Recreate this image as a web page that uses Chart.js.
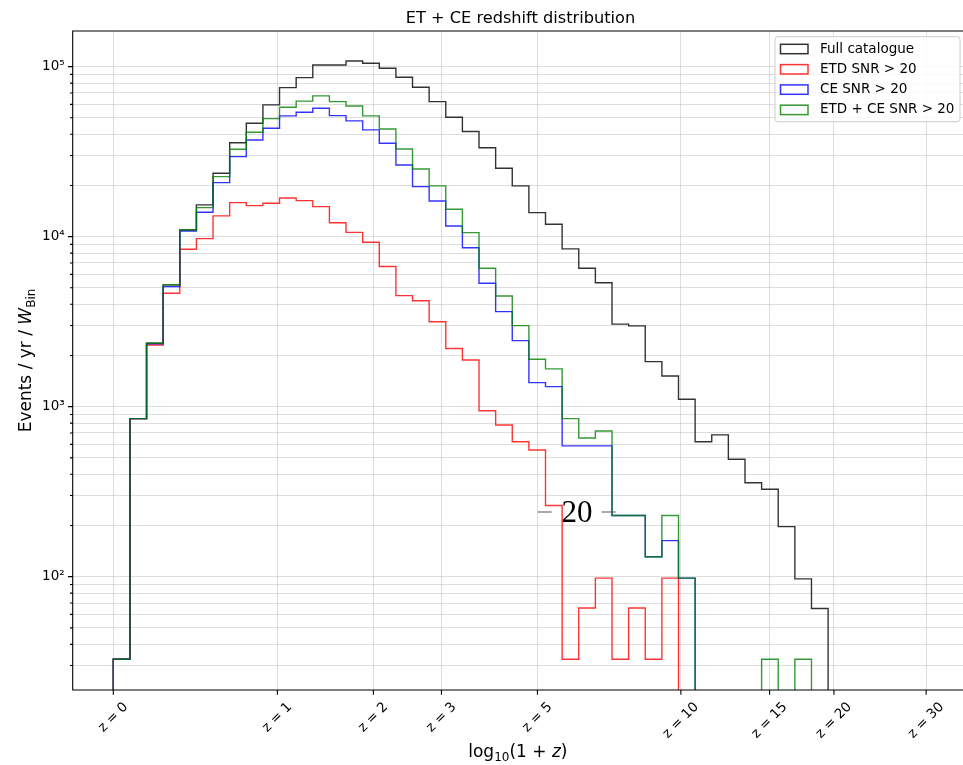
<!DOCTYPE html>
<html>
<head>
<meta charset="utf-8">
<script src="https://cdn.jsdelivr.net/npm/chart.js@4.4.0/dist/chart.umd.min.js"></script>
<style>
  body { margin: 0; background: #fff; }
  #wrap { width: 963px; height: 765px; }
</style>
</head>
<body>
<div id="wrap"><canvas id="chart"></canvas></div>
<script>
// histogram bins in log10(1+z), all start at 0
const binWidth = 0.0305;

// Events / yr / W_Bin per bin
const fullCatalogue = [32.7, 850, 2360, 5200, 10950, 15370, 23600, 35700, 46450, 59550,
    75260, 86100, 102300, 102300, 108000, 104700, 97900, 86600, 75650, 62250,
    50400, 41500, 33300, 25250, 19880, 13840, 11830, 8470, 6520, 5360,
    3060, 2985, 1840, 1516, 1105, 622, 682, 491, 357, 327,
    197, 97, 65, 0];
const etdSnr20 = [32.7, 850, 2307, 4645, 8430, 9730, 13240, 15850, 15220, 15720,
    16880, 16290, 15010, 12080, 10600, 9270, 6670, 4500, 4200, 3160,
    2200, 1880, 947, 780, 622, 556, 262, 32.7, 65.4, 98,
    32.7, 65.4, 32.7, 98, 0];
const ceSnr20 = [32.7, 850, 2339, 5080, 10800, 13920, 20780, 29550, 37050, 43440,
    51300, 53950, 56900, 51500, 47950, 42450, 35400, 26400, 19680, 16220,
    11560, 8610, 5320, 3620, 2445, 1384, 1312, 588, 588, 588,
    229, 229, 131, 163, 98, 0];
const etdCeSnr20 = [32.7, 850, 2360, 5200, 10950, 14820, 22540, 32650, 41100, 49430,
    57700, 62700, 67250, 62250, 58700, 51300, 43000, 32800, 25000, 19880,
    14500, 10560, 6520, 4480, 2995, 1900, 1667, 850, 654, 719,
    229, 229, 131, 229, 98, 0, 0, 0, 0, 32.7,
    0, 32.7, 0];

const seriesLabels = ["Full catalogue", "ETD SNR > 20", "CE SNR > 20", "ETD + CE SNR > 20"];
const seriesColors = ["rgba(0,0,0,0.8)", "rgba(255,0,0,0.8)", "rgba(0,0,255,0.8)", "rgba(0,128,0,0.8)"];

const zTicks = [0, 1, 2, 3, 5, 10, 15, 20, 30];
const yMajorTicks = [100, 1000, 10000, 100000];
const yTickLabels = ["10\u00b2", "10\u00b3", "10\u2074", "10\u2075"];

const yMin = 21.55, yMax = 162000;
const xMin = -0.0745, xMax = 1.559;

// empty bins go below the axis
function stepPoints(values) {
    const floor = 1;
    const pts = [{ x: 0, y: floor }];
    values.forEach((v, i) => pts.push({ x: i * binWidth, y: v > 0 ? v : floor }));
    pts.push({ x: values.length * binWidth, y: floor });
    return pts;
}

const allSeries = [fullCatalogue, etdSnr20, ceSnr20, etdCeSnr20];

// minor + major y ticks: 30..90, 100..900, ...
const yAllTicks = [];
[10, 100, 1000, 10000, 100000].forEach(d => {
    for (let m = 1; m <= 9; m++) {
        const v = d * m;
        if (v >= yMin && v <= yMax) yAllTicks.push(v);
    }
});

const FONT = '"DejaVu Sans", sans-serif';
const GRID = "rgba(176,176,176,0.42)";

function drawPieces(ctx, pieces, cx, baseline) {
    let total = 0;
    pieces.forEach(p => { ctx.font = p.font; p.w = ctx.measureText(p.text).width; total += p.w; });
    let x = cx - total / 2;
    pieces.forEach(p => {
        ctx.font = p.font;
        ctx.fillText(p.text, x, baseline + (p.dy || 0));
        x += p.w;
    });
}

const decor = {
    id: "decor",
    afterDraw(chart) {
        const ctx = chart.ctx;
        const a = chart.chartArea;
        const xs = chart.scales.x, ys = chart.scales.y;
        ctx.save();

        // frame
        ctx.strokeStyle = "#000";
        ctx.lineWidth = 1.1;
        ctx.beginPath();
        ctx.moveTo(a.right + 2, a.top);
        ctx.lineTo(a.left, a.top);
        ctx.lineTo(a.left, a.bottom);
        ctx.lineTo(a.right + 2, a.bottom);
        ctx.stroke();

        // tick marks
        ctx.beginPath();
        zTicks.forEach(z => {
            const px = xs.getPixelForValue(Math.log10(1 + z));
            ctx.moveTo(px, a.bottom);
            ctx.lineTo(px, a.bottom + 4.7);
        });
        yAllTicks.forEach(v => {
            const py = ys.getPixelForValue(v);
            const len = yMajorTicks.includes(v) ? 4.7 : 2.7;
            ctx.moveTo(a.left, py);
            ctx.lineTo(a.left - len, py);
        });
        ctx.stroke();

        ctx.fillStyle = "#000";

        // x tick labels, rotated 45 deg, bbox centred on tick
        ctx.font = "13.5px " + FONT;
        ctx.textAlign = "center";
        ctx.textBaseline = "middle";
        zTicks.forEach(z => {
            const px = xs.getPixelForValue(Math.log10(1 + z));
            const txt = "z = " + z;
            const w = ctx.measureText(txt).width;
            const h = 15.7;
            const side = (w + h) * Math.SQRT1_2;
            ctx.save();
            ctx.translate(px, a.bottom + 9.4 + side / 2);
            ctx.rotate(-Math.PI / 4);
            ctx.fillText(txt, 0, 0);
            ctx.restore();
        });

        ctx.textBaseline = "alphabetic";
        ctx.textAlign = "left";

        // title
        ctx.font = "16.2px " + FONT;
        ctx.textAlign = "center";
        ctx.fillText("ET + CE redshift distribution", 520.5, 23.3);
        ctx.textAlign = "left";

        // x axis label
        const xc = (a.left + a.right) / 2;
        drawPieces(ctx, [
            { text: "log", font: "17px " + FONT },
            { text: "10", font: "12px " + FONT, dy: 4.2 },
            { text: "(1 + ", font: "17px " + FONT },
            { text: "z", font: "oblique 17px " + FONT },
            { text: ")", font: "17px " + FONT }
        ], xc, 757);

        // y axis label
        ctx.save();
        ctx.translate(31, (a.top + a.bottom) / 2);
        ctx.rotate(-Math.PI / 2);
        drawPieces(ctx, [
            { text: "Events / yr / ", font: "17px " + FONT },
            { text: "W", font: "oblique 17px " + FONT },
            { text: "Bin", font: "12px " + FONT, dy: 4.2 }
        ], 0, 0);
        ctx.restore();

        // stray "20" label
        ctx.strokeStyle = "#555";
        ctx.lineWidth = 1;
        ctx.beginPath();
        ctx.moveTo(537.7, 512); ctx.lineTo(551.7, 512);
        ctx.moveTo(601.7, 512); ctx.lineTo(615.7, 512);
        ctx.stroke();
        ctx.font = '31px "Liberation Serif", serif';
        ctx.textAlign = "center";
        ctx.fillText("20", 577, 522);
        ctx.textAlign = "left";

        // legend
        const lx = 775, ly = 36.7, lw = 185, lh = 85;
        ctx.beginPath();
        ctx.roundRect(lx, ly, lw, lh, 3);
        ctx.fillStyle = "rgba(255,255,255,0.8)";
        ctx.fill();
        ctx.strokeStyle = "#cccccc";
        ctx.stroke();
        ctx.font = "13.5px " + FONT;
        ctx.textBaseline = "middle";
        seriesLabels.forEach((lab, i) => {
            const cy = 49 + i * 20.3;
            ctx.strokeStyle = seriesColors[i];
            ctx.lineWidth = 1.5;
            ctx.strokeRect(780.5, cy - 4.7, 27.5, 9.4);
            ctx.fillStyle = "#000";
            ctx.fillText(lab, 820, cy);
        });

        ctx.restore();
    }
};

const ctx = document.getElementById("chart").getContext("2d");

new Chart(ctx, {
    type: "line",
    data: {
        datasets: allSeries.map((vals, i) => ({
            label: seriesLabels[i],
            data: stepPoints(vals),
            borderColor: seriesColors[i],
            borderWidth: 1.4,
            stepped: "before",
            pointRadius: 0,
            fill: false,
            order: 4 - i
        }))
    },
    options: {
        responsive: true,
        maintainAspectRatio: false,
        animation: false,
        layout: { padding: { top: 31, left: 0, right: 0, bottom: 0 } },
        plugins: {
            legend: { display: false },
            title: { display: false },
            tooltip: { enabled: false }
        },
        scales: {
            x: {
                type: "linear",
                min: xMin,
                max: xMax,
                afterBuildTicks: axis => {
                    axis.ticks = zTicks.map(z => ({ value: Math.log10(1 + z) }));
                },
                afterFit: axis => { axis.height = 75; },
                ticks: { display: false },
                grid: { color: GRID, lineWidth: 1, drawTicks: false },
                border: { display: false }
            },
            y: {
                type: "logarithmic",
                min: yMin,
                max: yMax,
                afterBuildTicks: axis => {
                    axis.ticks = yAllTicks.map(v => ({ value: v }));
                },
                afterFit: axis => { axis.width = 72.7; },
                ticks: {
                    autoSkip: false,
                    padding: 8,
                    color: "#000",
                    font: { family: "DejaVu Sans", size: 13.5 },
                    callback: v => {
                        const k = yMajorTicks.indexOf(v);
                        return k >= 0 ? yTickLabels[k] : "";
                    }
                },
                grid: { color: GRID, lineWidth: 1, drawTicks: false },
                border: { display: false }
            }
        }
    },
    plugins: [decor]
});
</script>
</body>
</html>
